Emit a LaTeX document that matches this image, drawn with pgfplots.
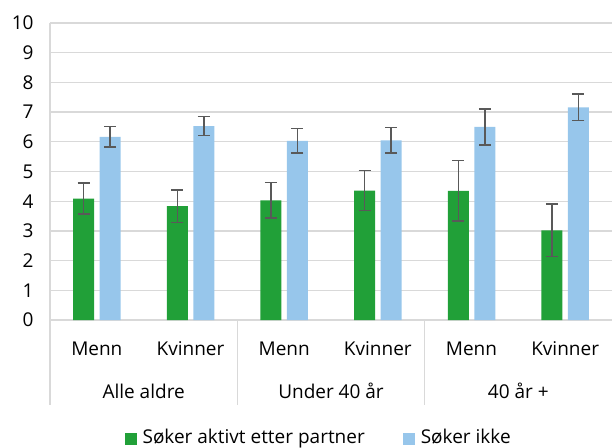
\documentclass[border=0pt]{standalone}
\usepackage{fontspec}
\setmainfont{Open Sans}
\usepackage{pgfplots}
\pgfplotsset{compat=1.18}
\definecolor{cgreen}{HTML}{21A038}
\definecolor{cblue}{HTML}{97C6EB}
\definecolor{gridc}{HTML}{D9D9D9}
\definecolor{errc}{HTML}{595959}
\newcommand\f{\fontsize{19bp}{22bp}\selectfont}
\pgfplotstableread{
x y e
0 4.09 0.52
1 3.83 0.55
2 4.03 0.60
3 4.36 0.68
4 4.35 1.02
5 3.02 0.89
}\green
\pgfplotstableread{
x y e
0 6.17 0.35
1 6.53 0.32
2 6.03 0.41
3 6.05 0.43
4 6.50 0.61
5 7.16 0.45
}\blue
\begin{document}
\begin{tikzpicture}
\path[use as bounding box] (-50bp,-128bp) rectangle (562bp,320bp);
\begin{axis}[
  at={(0,0)}, anchor=south west,
  scale only axis, width=562bp, height=297bp,
  xmin=-0.5, xmax=5.5, ymin=0, ymax=10,
  ytick={0,1,...,10}, xtick=\empty,
  axis lines=left,
  axis line style={gridc, line width=1.3bp, -},
  ymajorgrids, major grid style={gridc, line width=1.3bp},
  major tick length=0,
  tick label style={font=\f, text=black},
  /pgf/number format/assume math mode=true,
  yticklabel style={xshift=-13bp},
  ybar=5.5bp, bar width=21bp,
  clip=false,
  legend columns=2,
  legend style={draw=none, fill=none, font=\f, at={(0.478,-0.394)}, anchor=center,
    /tikz/column 1/.style={column sep=4bp},
    /tikz/column 2/.style={column sep=36bp},
    /tikz/column 3/.style={column sep=4bp}},
  legend image code/.code={\fill[#1,draw=none] (0bp,-7.5bp) rectangle (12bp,4.5bp);},
  error bars/error bar style={errc, line width=1.5bp},
  error bars/error mark options={errc, rotate=90, mark size=6bp, line width=1.5bp},
]
\addplot[fill=cgreen, draw=none, error bars/.cd, y dir=both, y explicit] table[x=x, y=y, y error=e] {\green};
\addlegendentry{Søker aktivt etter partner}
\addplot[fill=cblue, draw=none, error bars/.cd, y dir=both, y explicit] table[x=x, y=y, y error=e] {\blue};
\addlegendentry{Søker ikke}
\node[anchor=base, font=\f, yshift=-35.2bp] at (axis cs:0,0) {Menn};
\node[anchor=base, font=\f, yshift=-35.2bp] at (axis cs:1,0) {Kvinner};
\node[anchor=base, font=\f, yshift=-35.2bp] at (axis cs:2,0) {Menn};
\node[anchor=base, font=\f, yshift=-35.2bp] at (axis cs:3,0) {Kvinner};
\node[anchor=base, font=\f, yshift=-35.2bp] at (axis cs:4,0) {Menn};
\node[anchor=base, font=\f, yshift=-35.2bp] at (axis cs:5,0) {Kvinner};
\node[anchor=base, font=\f, yshift=-78.5bp] at (axis cs:0.5,0) {Alle aldre};
\node[anchor=base, font=\f, yshift=-78.5bp] at (axis cs:2.5,0) {Under 40 år};
\node[anchor=base, font=\f, yshift=-78.5bp] at (axis cs:4.5,0) {40 år +};
\draw[gridc, line width=1.3bp] (axis cs:-0.5,0) -- ([yshift=-85bp]axis cs:-0.5,0);
\draw[gridc, line width=1.3bp] (axis cs:1.5,0) -- ([yshift=-85bp]axis cs:1.5,0);
\draw[gridc, line width=1.3bp] (axis cs:3.5,0) -- ([yshift=-85bp]axis cs:3.5,0);
\end{axis}
\end{tikzpicture}
\end{document}
